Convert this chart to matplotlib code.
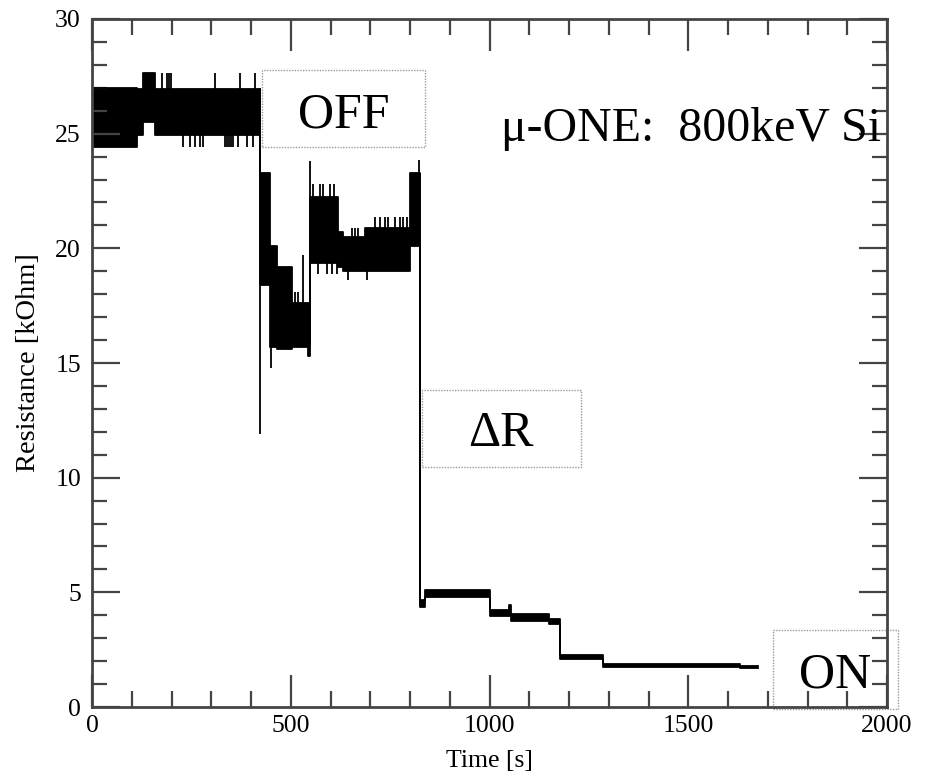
import matplotlib
matplotlib.use("Agg")
import matplotlib.pyplot as plt
from matplotlib.patches import Rectangle
from matplotlib.ticker import MultipleLocator

plt.rcParams['font.family'] = ['Liberation Serif', 'DejaVu Serif']

# Resistance envelope of the logged trace: each step starts at seg_start [s]
# and spans seg_low..seg_high [kOhm] until the next start.
seg_start = [0, 113, 128, 158,
             422.6, 448, 465, 502, 544, 548, 620, 632, 687, 800,
             826, 838, 1001, 1050, 1055, 1150, 1176, 1286, 1630]
seg_low = [24.4, 24.95, 25.5, 24.95,
           18.4, 15.7, 15.6, 15.7, 15.3, 19.35, 19.2, 19.0, 19.0, 20.1,
           4.35, 4.8, 3.95, 3.95, 3.75, 3.6, 2.08, 1.76, 1.70]
seg_high = [27.0, 26.95, 27.65, 26.95,
            23.3, 20.1, 19.2, 17.6, 17.6, 22.25, 20.7, 20.5, 20.9, 23.3,
            4.65, 5.1, 4.25, 4.45, 4.05, 3.85, 2.25, 1.86, 1.78]
trace_end = 1676

# Isolated excursions of the trace: (time, from, to)
spike_t = [176, 189, 194, 199, 309, 372, 410,
           229, 246, 259, 272, 279, 335, 340, 345, 350, 355, 367, 390, 405,
           422.6, 449.5, 511, 518, 531, 548,
           557, 574, 582, 599, 609, 569, 590, 603, 616,
           653, 662, 670, 645, 692,
           712, 725, 737, 745, 762, 775, 782, 792, 822, 826]
spike_from = [26.9, 26.9, 26.9, 26.9, 26.9, 26.9, 26.9,
              25.0, 25.0, 25.0, 25.0, 25.0, 25.0, 25.0, 25.0, 25.0, 25.0, 25.0, 25.0, 25.0,
              27.0, 16.0, 17.5, 17.5, 17.5, 15.8,
              22.0, 22.0, 22.0, 22.0, 22.0, 19.5, 19.5, 19.5, 19.5,
              20.4, 20.4, 20.4, 19.1, 19.1,
              20.8, 20.8, 20.8, 20.8, 20.8, 20.8, 20.8, 20.8, 23.2, 23.3]
spike_to = [27.65, 27.65, 27.65, 27.65, 27.65, 27.65, 27.65,
            24.4, 24.4, 24.4, 24.4, 24.4, 24.4, 24.4, 24.4, 24.4, 24.4, 24.4, 24.4, 24.4,
            11.9, 14.8, 18.1, 18.1, 19.7, 23.8,
            22.8, 22.8, 22.8, 22.8, 22.8, 18.9, 18.9, 18.9, 18.9,
            20.9, 20.9, 20.9, 18.6, 18.6,
            21.35, 21.35, 21.35, 21.35, 21.35, 21.35, 21.35, 21.35, 23.85, 4.4]

fig = plt.figure(figsize=(9.25, 7.75), dpi=100)
ax = fig.add_axes([0.0995, 0.0877, 0.8595, 0.8878])

edges = seg_start + [trace_end]
low = seg_low + [seg_low[-1]]
high = seg_high + [seg_high[-1]]
ax.fill_between(edges, low, high, step='post', color='black', lw=0)
ax.plot(edges, low, drawstyle='steps-post', color='black', lw=1.3)
ax.plot(edges, high, drawstyle='steps-post', color='black', lw=1.3)
ax.vlines(spike_t, spike_from, spike_to, color='black', lw=1.3)

ax.set_xlim(0, 2000)
ax.set_ylim(0, 30)
ax.xaxis.set_major_locator(MultipleLocator(500))
ax.xaxis.set_minor_locator(MultipleLocator(100))
ax.yaxis.set_major_locator(MultipleLocator(5))
ax.yaxis.set_minor_locator(MultipleLocator(1))

edge_col = '#444444'
for sp in ax.spines.values():
    sp.set_linewidth(2)
    sp.set_color(edge_col)
ax.tick_params(which='both', direction='in', top=True, right=True,
               color=edge_col, labelsize=18.5, width=1.6)
ax.tick_params(axis='x', which='major', length=23, pad=6)
ax.tick_params(axis='x', which='minor', length=11.5)
ax.tick_params(axis='y', which='major', length=20, pad=8)
ax.tick_params(axis='y', which='minor', length=10.5)

ax.set_xlabel('Time [s]', fontsize=18.5, labelpad=9)
ax.set_ylabel('Resistance [kOhm]', fontsize=20.5, labelpad=10)

# Annotation boxes
box_style = dict(fill=False, edgecolor='#999999', lw=1.0, linestyle=(0, (1, 1)),
                 clip_on=False)
ax.add_patch(Rectangle((428, 24.42), 410, 3.36, **box_style))
ax.add_patch(Rectangle((830, 10.47), 400, 3.35, **box_style))
ax.add_patch(Rectangle((1713, -0.1), 315, 3.46, **box_style))

ax.text(633, 25.25, 'OFF', fontsize=36, ha='center', va='baseline')
ax.text(1029, 11.38, 'ΔR', fontsize=36, ha='center', va='baseline')
ax.text(1869, 0.87, 'ON', fontsize=36, ha='center', va='baseline')
ax.text(1030, 24.68, 'μ-ONE:  800keV Si', fontsize=34.5, ha='left', va='baseline')

fig.savefig('out.png', dpi=100)
